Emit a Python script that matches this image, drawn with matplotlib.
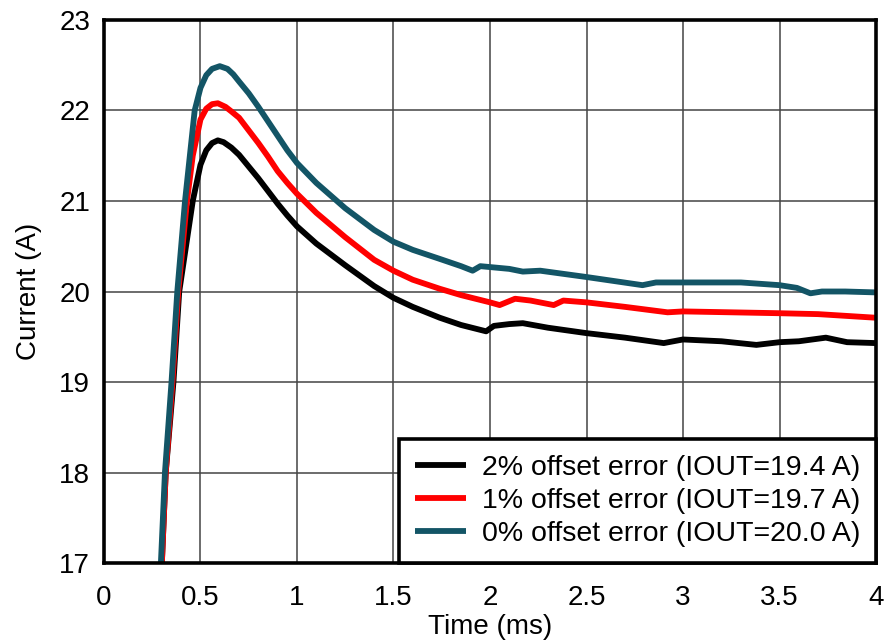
import numpy as np
import matplotlib
matplotlib.use("Agg")
import matplotlib.pyplot as plt

# 2% offset error (IOUT=19.4 A)
t_2 = [0.3, 0.32, 0.36, 0.39, 0.46, 0.5, 0.53, 0.56, 0.59, 0.62, 0.66, 0.7, 0.75, 0.8, 0.85,
       0.9, 0.95, 1.0, 1.1, 1.25, 1.4, 1.5, 1.6, 1.74, 1.85, 1.98, 2.02, 2.1, 2.17, 2.3, 2.5,
       2.7, 2.9, 3.0, 3.2, 3.38, 3.5, 3.6, 3.74, 3.85, 4.0]
i_2 = [17, 18, 19, 20, 21, 21.4, 21.56, 21.64, 21.67, 21.65, 21.59, 21.51, 21.38, 21.25, 21.11,
       20.97, 20.84, 20.72, 20.53, 20.29, 20.06, 19.93, 19.83, 19.71, 19.63, 19.56, 19.62, 19.64, 19.65, 19.60, 19.54,
       19.49, 19.43, 19.47, 19.45, 19.41, 19.44, 19.45, 19.49, 19.44, 19.43]

# 1% offset error (IOUT=19.7 A)
t_1 = [0.3, 0.32, 0.355, 0.385, 0.43, 0.46, 0.5, 0.53, 0.56, 0.59, 0.63, 0.66, 0.7, 0.75, 0.8, 0.85,
       0.9, 0.95, 1.0, 1.1, 1.25, 1.4, 1.5, 1.6, 1.74, 1.85, 2.0, 2.05, 2.13, 2.21, 2.33, 2.38, 2.5,
       2.7, 2.92, 3.0, 3.5, 3.7, 4.0]
i_1 = [17, 18, 19, 20, 21, 21.5, 21.9, 22.02, 22.07, 22.08, 22.04, 21.99, 21.92, 21.78, 21.64, 21.49,
       21.33, 21.2, 21.08, 20.87, 20.6, 20.35, 20.23, 20.13, 20.03, 19.96, 19.88, 19.85, 19.92, 19.90, 19.85, 19.90, 19.88,
       19.83, 19.77, 19.78, 19.76, 19.75, 19.71]

# 0% offset error (IOUT=20.0 A)
t_0 = [0.295, 0.316, 0.35, 0.38, 0.42, 0.47, 0.5, 0.53, 0.56, 0.6, 0.64, 0.67, 0.7, 0.75, 0.8, 0.85,
       0.9, 0.95, 1.0, 1.1, 1.25, 1.4, 1.5, 1.6, 1.74, 1.85, 1.91, 1.95, 2.0, 2.1, 2.17, 2.26, 2.5,
       2.79, 2.86, 3.0, 3.3, 3.5, 3.59, 3.66, 3.72, 3.84, 4.0]
i_0 = [17, 18, 19, 20, 21, 22, 22.25, 22.39, 22.46, 22.49, 22.46, 22.4, 22.32, 22.19, 22.04, 21.88,
       21.72, 21.56, 21.42, 21.2, 20.92, 20.68, 20.55, 20.46, 20.36, 20.28, 20.23, 20.28, 20.27, 20.25, 20.22, 20.23, 20.16,
       20.07, 20.10, 20.10, 20.10, 20.07, 20.04, 19.98, 20.0, 20.0, 19.99]

labels = ["2% offset error (IOUT=19.4 A)",
          "1% offset error (IOUT=19.7 A)",
          "0% offset error (IOUT=20.0 A)"]
colors = ["#000000", "#ff0000", "#135566"]

plt.rcParams['font.family'] = ['Liberation Sans', 'DejaVu Sans']

fig = plt.figure(figsize=(8.84, 6.43), dpi=100)
ax = fig.add_axes([0.1176, 0.1244, 0.8734, 0.8445])

for t, i, c, lab in zip([t_2, t_1, t_0], [i_2, i_1, i_0], colors, labels):
    ax.plot(t, i, color=c, lw=4.2, label=lab, solid_capstyle='butt', solid_joinstyle='round')

ax.set_xlim(0, 4)
ax.set_ylim(17, 23)
ax.set_xticks(np.arange(0, 4.01, 0.5))
ax.set_xticklabels(["0", "0.5", "1", "1.5", "2", "2.5", "3", "3.5", "4"])
ax.set_yticks(np.arange(17, 23.1, 1))
ax.grid(True, color="#444444", lw=1.1)
ax.tick_params(axis='y', length=0, labelsize=20, pad=10)
ax.tick_params(axis='x', length=0, labelsize=20, pad=16)
for s in ax.spines.values():
    s.set_linewidth(2.6)
    s.set_color("black")

ax.set_xlabel("Time (ms)", fontsize=20, labelpad=2)
ax.set_ylabel("Current (A)", fontsize=20, labelpad=12)

leg = ax.legend(loc="lower right", fontsize=20.5, frameon=True, fancybox=False,
                borderaxespad=0, handlelength=1.8, handletextpad=0.55,
                labelspacing=0.25, borderpad=0.55, framealpha=1)
leg.get_frame().set_edgecolor("black")
leg.get_frame().set_linewidth(2.6)

fig.savefig("out.png", dpi=100)
